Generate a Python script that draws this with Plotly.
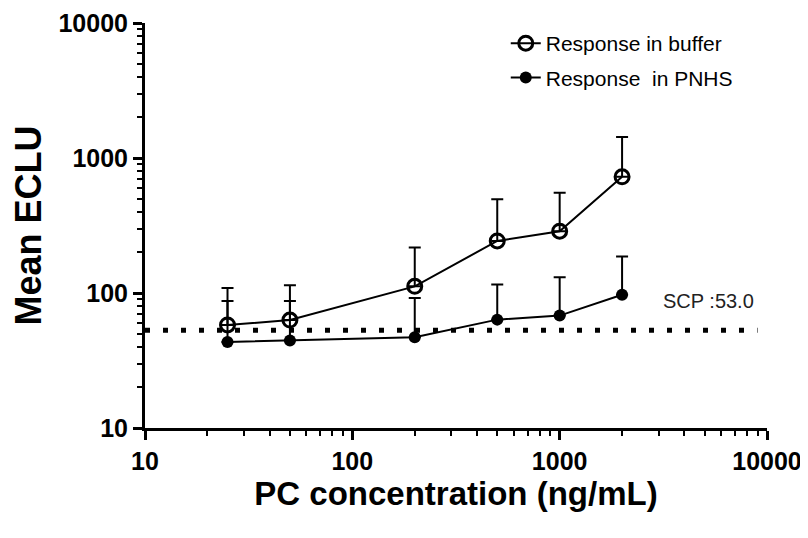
import plotly.graph_objects as go

conc = [25, 50, 200, 500, 1000, 2000]
buffer_mean = [58, 63, 112, 243, 287, 725]
buffer_err = [51, 51, 105, 252, 265, 705]
pnhs_mean = [43.4, 44.4, 47, 63.5, 68, 97]
pnhs_err = [44, 43, 45, 52, 63, 89]
scp_x = [10, 9000]
scp_y = [53.0, 53.0]
scp_label = "SCP :53.0"
major_ticks = [10, 100, 1000, 10000]
major_text = ["10", "100", "1000", "10000"]
minor_ticks = [m * d for d in (10, 100, 1000) for m in range(2, 10)]

fig = go.Figure()

fig.add_trace(go.Scatter(
    x=scp_x, y=scp_y, mode="lines", showlegend=False, hoverinfo="skip",
    line=dict(color="black", width=5, dash="5px,13px")))

fig.add_trace(go.Scatter(
    x=conc, y=buffer_mean, mode="lines+markers", name="Response in buffer",
    legendgroup="a",
    line=dict(color="black", width=2),
    marker=dict(symbol="circle-open", size=14, color="black", line=dict(width=3)),
    error_y=dict(type="data", array=buffer_err, arrayminus=[0]*6, symmetric=False,
                 color="black", thickness=2, width=6)))

fig.add_trace(go.Scatter(
    x=conc, y=pnhs_mean, mode="lines+markers", name="Response  in PNHS",
    legendgroup="b",
    line=dict(color="black", width=2),
    marker=dict(symbol="circle", size=12, color="black"),
    error_y=dict(type="data", array=pnhs_err, arrayminus=[0]*6, symmetric=False,
                 color="black", thickness=2, width=6)))

fig.add_annotation(x=3.716, y=1.944, xref="x", yref="y", text=scp_label,
                   showarrow=False, xanchor="center", yanchor="middle",
                   font=dict(family="Liberation Sans", size=20, color="#222"))

axis_common = dict(
    type="log", showgrid=False, zeroline=False, automargin=False,
    showline=True, linecolor="black", linewidth=3,
    ticks="outside", ticklen=9, tickwidth=3, tickcolor="black",
    tickmode="array", tickvals=major_ticks, ticktext=major_text,
    ticklabeloverflow="allow",
    tickfont=dict(family="Liberation Sans", size=25, color="black", weight="bold"),
    minor=dict(ticks="outside", ticklen=5, tickwidth=2, tickcolor="black",
               showgrid=False, tickmode="array", tickvals=minor_ticks),
)

fig.update_layout(
    width=800, height=530,
    margin=dict(l=137, r=41, t=15, b=110),
    plot_bgcolor="white", paper_bgcolor="white",
    xaxis=dict(range=[1, 4],
               title=dict(text="<b>PC concentration (ng/mL)</b>", standoff=6,
                          font=dict(family="Liberation Sans", size=33, color="black")),
               **axis_common),
    yaxis=dict(range=[1, 4],
               title=dict(text="<b>Mean ECLU</b>", standoff=18,
                          font=dict(family="Liberation Sans", size=36, color="black")),
               **axis_common),
    legend=dict(x=0.58, y=1.0, xanchor="left", yanchor="top",
                font=dict(family="Liberation Sans", size=21, color="black"),
                tracegroupgap=4, bgcolor="rgba(0,0,0,0)"),
)

fig.write_html("out.html")
